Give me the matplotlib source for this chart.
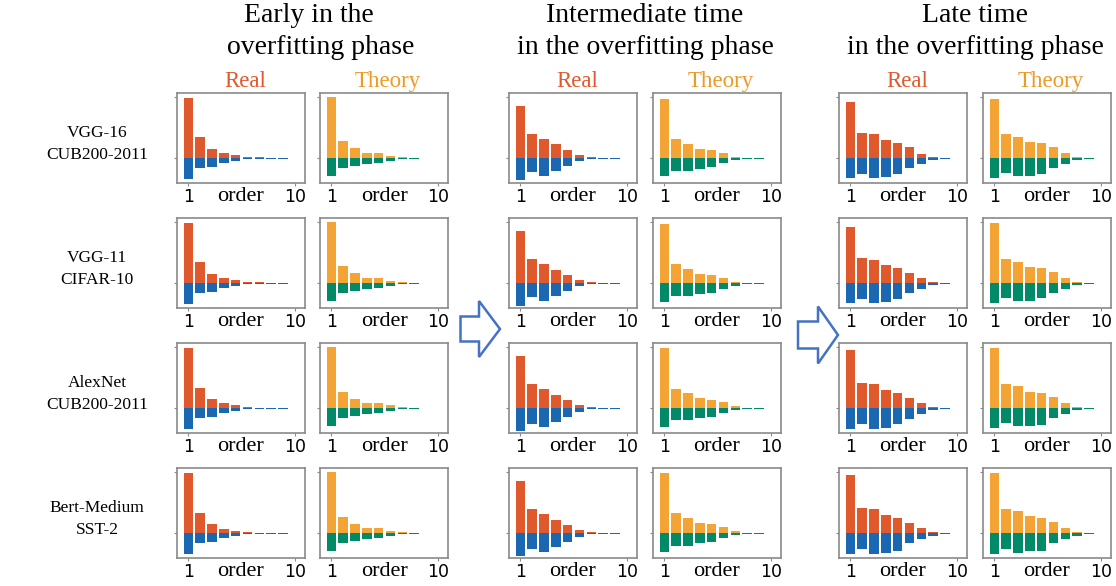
import matplotlib
matplotlib.use('Agg')
import matplotlib.pyplot as plt
from matplotlib.patches import Polygon

# ---------------- data ----------------
row_labels = ["VGG-16\nCUB200-2011", "VGG-11\nCIFAR-10", "AlexNet\nCUB200-2011", "Bert-Medium\nSST-2"]
group_titles = ["Early in the\noverfitting phase",
                "Intermediate time\nin the overfitting phase",
                "Late time\nin the overfitting phase"]
panel_titles = ["Real", "Theory"]
xtick_vals = [1, 10]
xtick_labels = ["1", "10"]

early_real_pos = [
    [0.98, 0.35, 0.15, 0.083, 0.05, 0.017, 0.017, 0.005, 0.004],
    [0.98, 0.35, 0.15, 0.083, 0.05, 0.017, 0.017, 0.005, 0.004],
    [0.98, 0.33, 0.15, 0.083, 0.05, 0.017, 0.006, 0.004, 0.004],
    [0.98, 0.335, 0.15, 0.067, 0.033, 0.017, 0.005, 0.004, 0.004],
]
early_real_neg = [
    [-0.34, -0.17, -0.15, -0.083, -0.05, -0.017, -0.017, -0.013, -0.013],
    [-0.34, -0.16, -0.145, -0.077, -0.044, -0.017, -0.017, -0.013, -0.013],
    [-0.34, -0.16, -0.145, -0.078, -0.044, -0.017, -0.013, -0.013, -0.013],
    [-0.35, -0.16, -0.145, -0.078, -0.045, -0.013, -0.013, -0.013, -0.013],
]
early_theory_pos = [
    [1.0, 0.28, 0.165, 0.082, 0.082, 0.04, 0.016, 0.004],
    [1.0, 0.28, 0.165, 0.082, 0.082, 0.04, 0.016, 0.004],
    [1.0, 0.27, 0.15, 0.083, 0.083, 0.05, 0.017, 0.004],
    [1.0, 0.27, 0.15, 0.083, 0.083, 0.033, 0.017, 0.004],
]
early_theory_neg = [
    [-0.30, -0.165, -0.13, -0.10, -0.082, -0.05, -0.016, -0.012],
    [-0.30, -0.165, -0.13, -0.10, -0.082, -0.05, -0.016, -0.012],
    [-0.29, -0.16, -0.13, -0.095, -0.078, -0.044, -0.012, -0.012],
    [-0.29, -0.16, -0.13, -0.095, -0.078, -0.045, -0.012, -0.012],
]
mid_real_pos = [
    [0.85, 0.39, 0.31, 0.23, 0.135, 0.054, 0.02, 0.005, 0.004],
    [0.86, 0.39, 0.31, 0.22, 0.135, 0.055, 0.02, 0.005, 0.004],
    [0.86, 0.39, 0.31, 0.21, 0.13, 0.05, 0.016, 0.004, 0.004],
    [0.86, 0.39, 0.31, 0.22, 0.135, 0.05, 0.017, 0.004, 0.004],
]
mid_real_neg = [
    [-0.36, -0.23, -0.30, -0.22, -0.135, -0.054, -0.02, -0.012, -0.012],
    [-0.37, -0.23, -0.30, -0.22, -0.135, -0.055, -0.02, -0.012, -0.012],
    [-0.37, -0.26, -0.31, -0.23, -0.14, -0.06, -0.016, -0.012, -0.012],
    [-0.38, -0.26, -0.31, -0.23, -0.145, -0.06, -0.02, -0.012, -0.012],
]
mid_theory_pos = [
    [0.97, 0.32, 0.235, 0.15, 0.135, 0.087, 0.02, 0.005, 0.004],
    [0.97, 0.31, 0.23, 0.15, 0.13, 0.08, 0.016, 0.005, 0.004],
    [0.98, 0.32, 0.24, 0.16, 0.14, 0.093, 0.027, 0.006, 0.004],
    [0.98, 0.325, 0.24, 0.16, 0.143, 0.093, 0.027, 0.008, 0.004],
]
mid_theory_neg = [
    [-0.30, -0.21, -0.21, -0.175, -0.153, -0.087, -0.04, -0.012, -0.012],
    [-0.31, -0.22, -0.22, -0.18, -0.16, -0.09, -0.04, -0.012, -0.012],
    [-0.31, -0.20, -0.20, -0.165, -0.15, -0.082, -0.033, -0.012, -0.012],
    [-0.31, -0.21, -0.21, -0.165, -0.15, -0.082, -0.033, -0.01, -0.01],
]
late_real_pos = [
    [0.93, 0.415, 0.40, 0.29, 0.24, 0.175, 0.075, 0.02, 0.004],
    [0.93, 0.415, 0.38, 0.29, 0.24, 0.16, 0.08, 0.02, 0.004],
    [0.95, 0.42, 0.39, 0.30, 0.245, 0.163, 0.076, 0.016, 0.004],
    [0.95, 0.42, 0.39, 0.29, 0.24, 0.16, 0.08, 0.016, 0.004],
]
late_real_neg = [
    [-0.33, -0.255, -0.33, -0.31, -0.265, -0.17, -0.09, -0.03, -0.012],
    [-0.33, -0.26, -0.33, -0.315, -0.265, -0.17, -0.09, -0.03, -0.012],
    [-0.34, -0.255, -0.34, -0.32, -0.27, -0.174, -0.092, -0.027, -0.012],
    [-0.34, -0.265, -0.34, -0.32, -0.29, -0.17, -0.09, -0.043, -0.012],
]
late_theory_pos = [
    [0.97, 0.39, 0.35, 0.27, 0.24, 0.175, 0.08, 0.016, 0.004],
    [0.98, 0.39, 0.35, 0.27, 0.24, 0.176, 0.08, 0.016, 0.004],
    [0.98, 0.39, 0.355, 0.27, 0.24, 0.177, 0.08, 0.016, 0.004],
    [0.99, 0.395, 0.36, 0.275, 0.243, 0.18, 0.08, 0.016, 0.004],
]
late_theory_neg = [
    [-0.33, -0.25, -0.30, -0.30, -0.265, -0.17, -0.09, -0.027, -0.012],
    [-0.33, -0.25, -0.30, -0.30, -0.25, -0.17, -0.09, -0.027, -0.012],
    [-0.33, -0.25, -0.30, -0.30, -0.28, -0.17, -0.09, -0.027, -0.012],
    [-0.34, -0.255, -0.32, -0.30, -0.29, -0.17, -0.09, -0.043, -0.012],
]

# ---------------- styling ----------------
RED = "#E0592C"
BLUE = "#1B68B2"
ORANGE = "#F3A434"
GREEN = "#008A68"
REAL_TXT = "#E0592C"
THEORY_TXT = "#EE9A24"
SPINE = "#8A8A8A"
ARROW = "#4472C4"
SERIF = "Liberation Serif"

W, H = 1116, 586
fig = plt.figure(figsize=(W / 100, H / 100), dpi=100)

col_left = [177, 320, 509, 653, 839, 983]
row_top = [93, 218, 343, 468]
ax_w, ax_h = 128, 90

panel_data = [
    (early_real_pos, early_real_neg, RED, BLUE),
    (early_theory_pos, early_theory_neg, ORANGE, GREEN),
    (mid_real_pos, mid_real_neg, RED, BLUE),
    (mid_theory_pos, mid_theory_neg, ORANGE, GREEN),
    (late_real_pos, late_real_neg, RED, BLUE),
    (late_theory_pos, late_theory_neg, ORANGE, GREEN),
]

def fx(px):
    return px / W

def fy(py):
    return 1 - py / H

for r in range(4):
    for c in range(6):
        pos_all, neg_all, cpos, cneg = panel_data[c]
        pos = pos_all[r]
        neg = neg_all[r]
        ax = fig.add_axes([fx(col_left[c]), fy(row_top[r] + ax_h), ax_w / W, ax_h / H])
        xs = list(range(1, len(pos) + 1))
        ax.bar(xs, pos, width=0.8, color=cpos, linewidth=0)
        ax.bar(xs, neg, width=0.8, color=cneg, linewidth=0)
        ax.set_xlim(0.05, 10.85)
        ax.set_ylim(-0.41, 1.07)
        ax.set_yticks([0, 1])
        ax.set_yticklabels([])
        ax.set_xticks(xtick_vals)
        ax.set_xticklabels(xtick_labels, fontsize=12.5, family="DejaVu Sans")
        ax.tick_params(axis='both', length=2.5, width=0.8, color=SPINE, pad=1)
        for sp in ax.spines.values():
            sp.set_color(SPINE)
            sp.set_linewidth(1.2)
        ax.text(0.5, -0.2, "order", transform=ax.transAxes, ha='center', va='baseline',
                family=SERIF, fontsize=16)
        if r == 0:
            ttl = panel_titles[c % 2]
            col = REAL_TXT if c % 2 == 0 else THEORY_TXT
            cx = col_left[c] + ax_w / 2 + 4
            fig.text(fx(cx), fy(87), ttl, ha='center', va='baseline', family=SERIF,
                     fontsize=16.5, color=col)

# group titles
title_shift = [(-4, 8), (0, 0), (0, 0)]
for g in range(3):
    cx = (col_left[2 * g] + col_left[2 * g + 1] + ax_w) / 2
    l1, l2 = group_titles[g].split("\n")
    fig.text(fx(cx + title_shift[g][0]), fy(22), l1, ha='center', va='baseline', family=SERIF, fontsize=20)
    fig.text(fx(cx + title_shift[g][1]), fy(54), l2, ha='center', va='baseline', family=SERIF, fontsize=20)

# row labels
for r in range(4):
    cy = row_top[r] + ax_h / 2 + 5
    l1, l2 = row_labels[r].split("\n")
    fig.text(fx(97), fy(cy - 6), l1, ha='center', va='baseline', family=SERIF, fontsize=12.5)
    fig.text(fx(97), fy(cy + 16), l2, ha='center', va='baseline', family=SERIF, fontsize=12.5)

# block arrows (pixel geometry)
def block_arrow(x0, xb, xt, yc, sh, hh):
    pts = [(x0, yc - sh), (xb, yc - sh), (xb, yc - hh), (xt, yc),
           (xb, yc + hh), (xb, yc + sh), (x0, yc + sh)]
    pts = [(fx(x), fy(y)) for x, y in pts]
    fig.patches.append(Polygon(pts, closed=True, transform=fig.transFigure,
                               facecolor='white', edgecolor=ARROW, linewidth=1.8,
                               joinstyle='miter'))

block_arrow(460.5, 479, 500, 329, 12.5, 28)
block_arrow(798, 818, 838, 335, 13.5, 28.5)

fig.savefig("out.png", dpi=100)
